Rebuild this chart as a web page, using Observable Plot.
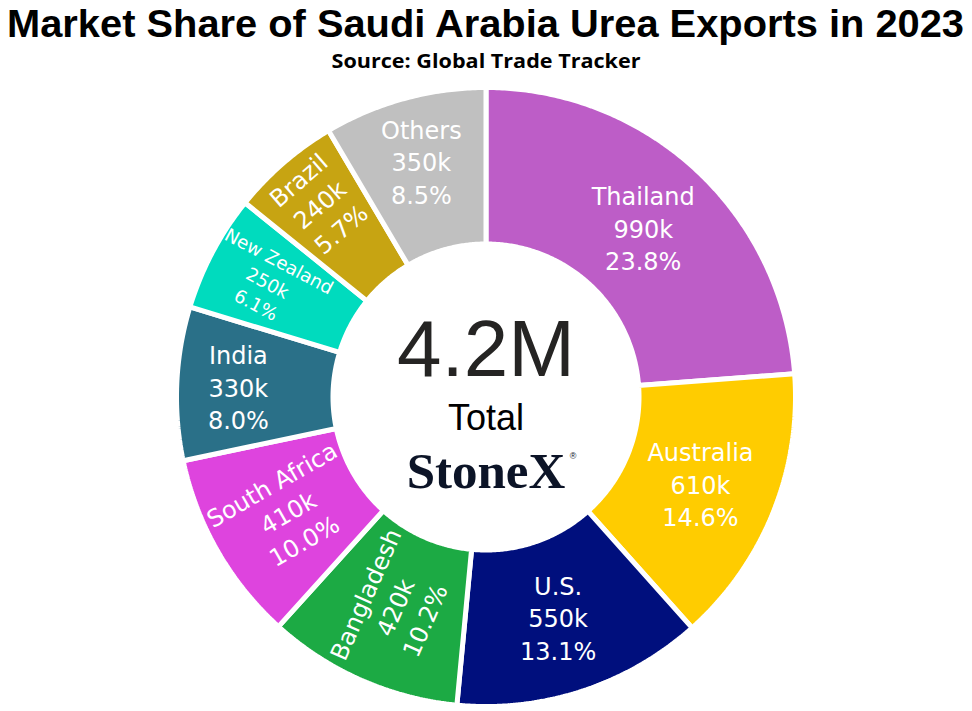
<!DOCTYPE html>
<html><head><meta charset="utf-8">
<script src="https://cdn.jsdelivr.net/npm/d3@7"></script>
<script src="https://cdn.jsdelivr.net/npm/@observablehq/plot@0.6"></script>
<style>
body{margin:0;background:#fff;width:972px;height:711px;overflow:hidden;position:relative;}
#title{position:absolute;left:0;top:5px;width:972px;text-align:center;font:bold 38px "Liberation Sans Narrow","Liberation Sans",Arial,sans-serif;line-height:38px;white-space:nowrap;color:#000;}
#sub{position:absolute;left:0;top:52px;width:972px;text-align:center;font:bold 19px "Open Sans",sans-serif;line-height:19px;white-space:nowrap;color:#000;}
#title span,#sub span{display:inline-block;transform-origin:center;}
#chart{position:absolute;left:0;top:76px;}
</style></head><body>
<div id="title"><span>Market Share of Saudi Arabia Urea Exports in 2023</span></div>
<div id="sub"><span>Source: Global Trade Tracker</span></div>
<div id="chart"></div>
<script>
// ---- data ----
const countries = ["Thailand","Australia","U.S.","Bangladesh","South Africa","India","New Zealand","Brazil","Others"];
const volumesK = [990,610,550,420,410,330,250,240,350];
const sharesPct = [23.8,14.6,13.1,10.2,10.0,8.0,6.1,5.7,8.5];
const colors = ["#bd5dc7","#ffcc00","#000f7d","#1caa44","#de44de","#2a7088","#00dbbe","#c7a412","#c0c0c0"];
const centerLabel = "Total";
const logoText = "StoneX";

// ---- layout ----
const W = 972, H = 635;
const R = 309.5, R0 = 153;          // outer / inner path radius
const ring = 1 - R0 / R;
const gap = 5;
const labelFont = 24, lineH = 32.5, labelFamily = "DejaVu Sans";

const total = d3.sum(sharesPct);
let cum = 0;
const slices = countries.map((name, i) => {
  const a0 = cum / total * 2 * Math.PI;
  cum += sharesPct[i];
  const a1 = cum / total * 2 * Math.PI;
  return {name, a0, a1, value: volumesK[i], share: sharesPct[i]};
});

// polygon points for each ring slice
const pts = [];
for (const s of slices) {
  const n = Math.max(8, Math.ceil((s.a1 - s.a0) / (Math.PI / 360)));
  for (let k = 0; k <= n; k++) {
    const a = s.a0 + (s.a1 - s.a0) * k / n;
    pts.push({name: s.name, x: R * Math.sin(a), y: R * Math.cos(a)});
  }
  for (let k = n; k >= 0; k--) {
    const a = s.a0 + (s.a1 - s.a0) * k / n;
    pts.push({name: s.name, x: R0 * Math.sin(a), y: R0 * Math.cos(a)});
  }
}

// inside-text placement (auto orientation: horizontal / radial / tangential)
const ctx = document.createElement("canvas").getContext("2d");
ctx.font = `${labelFont}px "${labelFamily}"`;
const norm = d => { while (d > 90) d -= 180; while (d < -90) d += 180; return d; };
function maxHalf(a, half, r, ring) {
  const q = a + 1 / (2 * Math.tan(half));
  return r * Math.min(1 / (Math.sqrt(q * q + 0.5) + q), ring / (Math.sqrt(a * a + ring / 2) + a));
}
const labels = slices.map(s => {
  const lines = [s.name, `${s.value}k`, `${s.share.toFixed(1)}%`];
  const w = d3.max(lines, l => ctx.measureText(l).width);
  const h = (lines.length - 1) * lineH + labelFont * 1.164;
  const half = (s.a1 - s.a0) / 2, mid = (s.a0 + s.a1) / 2;
  const midDeg = mid * 180 / Math.PI;
  const rIns = Math.min(1 / (1 + 1 / Math.sin(half)), ring / 2);
  let t = {scale: rIns * R * 2 / Math.hypot(w, h), rc: 1 - rIns, rot: 0};
  if (t.scale < 1) {
    const rr = R - 6;
    const aR = w / h, sR = maxHalf(aR, half, rr, ring);
    const tR = {scale: 2 * sR / h, rc: Math.cos(sR / rr) - aR * sR / rr, rot: norm(midDeg - 90)};
    const aT = h / w, sT = maxHalf(aT, half, rr, ring);
    const tT = {scale: 2 * sT / w, rc: Math.cos(sT / rr) - aT * sT / rr, rot: norm(midDeg)};
    for (const c of [tR, tT]) if (c.scale > t.scale) t = c;
  }
  return {
    text: lines.join("\n"),
    x: R * t.rc * Math.sin(mid),
    y: R * t.rc * Math.cos(mid),
    rotate: t.rot,
    size: labelFont * Math.min(1, t.scale)
  };
});

const totalText = d3.format(".2s")(d3.sum(volumesK) * 1000);
const center = [{x: 0, y: 0}];

const plot = Plot.plot({
  width: W, height: H,
  margin: 0,
  x: {domain: [-485.5, 486.5], axis: null},
  y: {domain: [-(H - 320.5), 320.5], axis: null},
  color: {domain: countries, range: colors},
  style: {background: "#fff", overflow: "visible"},
  marks: [
    Plot.line(pts, {x: "x", y: "y", z: "name", fill: "name", stroke: "white", strokeWidth: gap, curve: "linear-closed", strokeLinejoin: "miter"}),
    Plot.text(labels, {x: "x", y: "y", text: "text", rotate: "rotate", fontSize: "size", fill: "white", fontFamily: labelFamily, lineHeight: lineH / labelFont}),
    Plot.text(center, {x: "x", y: "y", text: () => totalText, fontSize: 80, fontFamily: "Liberation Sans", fill: "#252423", lineAnchor: "bottom", dy: -21.5}),
    Plot.text(center, {x: "x", y: "y", text: () => centerLabel, fontSize: 36, fontFamily: "Liberation Sans", fill: "#000", lineAnchor: "bottom", dy: 32.5}),
    Plot.text(center, {x: "x", y: "y", text: () => logoText, fontSize: 51, fontWeight: "bold", fontFamily: "Liberation Serif", fill: "#0c1427", lineAnchor: "bottom", dy: 90.5}),
    Plot.text(center, {x: "x", y: "y", text: () => "®", fontSize: 9, fontFamily: "Liberation Sans", fill: "#0c1427", lineAnchor: "bottom", dx: 87, dy: 62})
  ]
});
document.getElementById("chart").appendChild(plot);

function fit(sel, target) {
  const el = document.querySelector(sel);
  const w = el.getBoundingClientRect().width;
  el.style.transform = `scaleX(${target / w})`;
}
fit("#title span", 957);
fit("#sub span", 309);
</script>
</body></html>
